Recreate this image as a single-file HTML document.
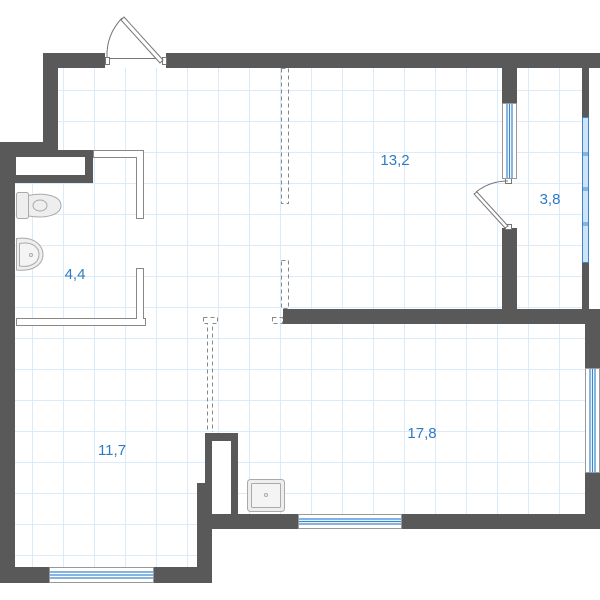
<!DOCTYPE html>
<html><head><meta charset="utf-8"><style>
html,body{margin:0;padding:0;background:#fff;}
svg{display:block;}
text{font-family:"Liberation Sans",sans-serif;font-size:15px;fill:#2f7cc4;}
</style></head><body>
<svg width="600" height="600" viewBox="0 0 600 600" xmlns="http://www.w3.org/2000/svg">
<defs>
<pattern id="g" x="1" y="28" width="31" height="31" patternUnits="userSpaceOnUse">
<path d="M0.5 0V31M0 0.5H31" stroke="#dcebfa" stroke-width="1" fill="none"/>
</pattern>
<clipPath id="c"><polygon points="58,68 582,68 582,309 585,309 585,514 212,514 212,567 15,567 15,150 58,150"/></clipPath>
</defs>
<rect width="600" height="600" fill="#fff"/>
<rect width="600" height="600" fill="url(#g)" clip-path="url(#c)"/>
<g fill="#595959">
<!-- top left -->
<rect x="43" y="53" width="62" height="15"/>
<rect x="43" y="53" width="15" height="97"/>
<rect x="0" y="142" width="58" height="8"/>
<rect x="166" y="53" width="434" height="15"/>
<rect x="0" y="142" width="15" height="441"/>
<rect x="15" y="150" width="78" height="33"/>
<!-- middle wall -->
<rect x="283" y="309" width="317" height="15"/>
<rect x="502" y="68" width="15" height="35"/>
<rect x="502" y="228" width="15" height="82"/>
<rect x="582" y="68" width="7" height="242"/>
<rect x="585" y="309" width="15" height="220"/>
<!-- bottom -->
<rect x="212" y="514" width="388" height="15"/>
<rect x="0" y="567" width="212" height="16"/>
<rect x="197" y="483" width="15" height="100"/>
<rect x="205" y="433" width="33" height="82"/>
</g>
<rect x="16" y="157" width="69" height="18" fill="#fff"/>
<rect x="212" y="441" width="19" height="73" fill="#fff"/>
<!-- bathroom partitions -->
<g fill="#fff" stroke="#888" stroke-width="1">
<path d="M93.5 150.5H143.5V218.5H136.5V157.5H93.5Z"/>
<path d="M136.5 268.5H143.5V318.5H145.5V325.5H16.5V318.5H136.5Z"/>
</g>
<!-- fixtures -->
<g fill="#eee" stroke="#aaa" stroke-width="1">
<rect x="16.5" y="192.5" width="12" height="26" rx="2"/>
<path d="M28.5 195.5C45 192 61 196 61 205.5C61 215 45 219 28.5 216Z"/>
<ellipse cx="40" cy="205.5" rx="7" ry="5.5"/>
<path d="M16.5 238.5C35 236 43 246 43 254.5C43 263 35 272 16.5 270Z"/>
<path d="M19.5 243.5C33 241 39 248 39 254.5C39 261 33 268 19.5 266Z" fill="#f4f4f4"/>
<circle cx="31" cy="255" r="1.5" fill="none"/>
<rect x="247.5" y="479.5" width="37" height="32" rx="3"/>
<rect x="251.5" y="483.5" width="29" height="24" rx="1" fill="#f4f4f4"/>
<circle cx="266" cy="495" r="1.5" fill="none"/>
</g>
<!-- dashed beams -->
<g fill="none" stroke="#888" stroke-width="1" stroke-dasharray="4,3">
<rect x="281.5" y="68.5" width="7" height="135"/>
<rect x="281.5" y="260.5" width="7" height="48"/>
<rect x="272.5" y="317.5" width="10" height="6"/>
<path d="M203.5 317.5H217.5V323.5H212.5V432M203.5 317.5V323.5H207.5V432"/>
</g>
<!-- entry door -->
<g stroke="#777" fill="none" stroke-width="1">
<line x1="110" y1="58.5" x2="162" y2="58.5"/>
<rect x="105.5" y="57.5" width="4" height="7" fill="#fff"/>
<rect x="162.5" y="57.5" width="4" height="7" fill="#fff"/>
<path d="M163 60L124 17L121 20L160 63Z" fill="#fff"/>
<path d="M122 18Q106 35 107 58" />
<!-- inner door -->
<rect x="505.5" y="178.5" width="6" height="5" fill="#fff"/>
<rect x="505.5" y="224.5" width="6" height="5" fill="#fff"/>
<path d="M508 226L477 192L474 194L505 228Z" fill="#fff"/>
<path d="M476 192Q490 181 508 181"/>
</g>
<!-- windows -->
<g fill="#fff" stroke="#999" stroke-width="1">
<rect x="502.5" y="103.5" width="14" height="75"/>
<rect x="49.5" y="567.5" width="104" height="15"/>
<rect x="298.5" y="514.5" width="103" height="14"/>
<rect x="585.5" y="368.5" width="14" height="104"/>
</g>
<g stroke="#3a86cf" stroke-width="1.2">
<path d="M507 104V178M509.5 104V178M512 104V178"/>
<path d="M50 572H153M50 575H153M50 578H153"/>
<path d="M299 519H401M299 521.5H401M299 524H401"/>
<path d="M590 369V472M592.5 369V472M595 369V472"/>
</g>
<rect x="582.5" y="117.5" width="6" height="145" fill="#cfe3f7" stroke="#3a86cf"/>
<g stroke="#3a86cf"><path d="M582 153H589M582 155H589M582 188H589M582 190H589M582 223H589M582 225H589"/></g>
<text x="395" y="165" text-anchor="middle">13,2</text>
<text x="550" y="204" text-anchor="middle">3,8</text>
<text x="75" y="279" text-anchor="middle">4,4</text>
<text x="112" y="455" text-anchor="middle">11,7</text>
<text x="422" y="438" text-anchor="middle">17,8</text>
</svg>
</body></html>
